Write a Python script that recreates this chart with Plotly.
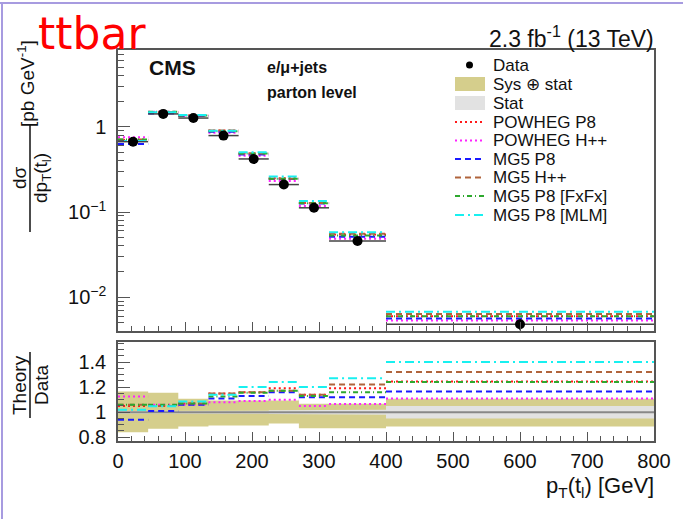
import numpy as np
import plotly.graph_objects as go

# ---------------- data ----------------
bin_edges = [0, 45, 90, 135, 180, 225, 270, 315, 400, 800]
data_xsec = [0.67, 1.42, 1.27, 0.79, 0.42, 0.21, 0.112, 0.0456, 0.0048]   # pb/GeV
data_stat_rel = [0.01, 0.008, 0.008, 0.01, 0.012, 0.015, 0.02, 0.02, 0.05]
sys_up = [1.165, 1.155, 1.107, 1.094, 1.094, 1.094, 1.068, 1.068, 1.107]
sys_dn = [0.840, 0.867, 0.885, 0.893, 0.893, 0.910, 0.872, 0.872, 0.885]

model_names = ["POWHEG P8", "POWHEG H++", "MG5 P8", "MG5 H++", "MG5 P8 [FxFx]", "MG5 P8 [MLM]"]
ratio_powheg_p8 = [1.05, 1.05, 1.07, 1.15, 1.16, 1.19, 1.14, 1.19, 1.245]
ratio_powheg_hpp = [1.125, 1.06, 1.06, 1.08, 1.09, 1.10, 1.05, 1.065, 1.11]
ratio_mg5_p8 = [0.94, 1.01, 1.06, 1.11, 1.13, 1.16, 1.12, 1.12, 1.165]
ratio_mg5_hpp = [1.06, 1.05, 1.07, 1.15, 1.16, 1.17, 1.14, 1.22, 1.32]
ratio_mg5_fxfx = [1.06, 1.06, 1.07, 1.125, 1.155, 1.17, 1.13, 1.16, 1.24]
ratio_mg5_mlm = [1.02, 1.047, 1.086, 1.14, 1.20, 1.24, 1.20, 1.27, 1.40]

x_ticks = [0, 100, 200, 300, 400, 500, 600, 700, 800]
main_y_ticks = [0.01, 0.1, 1]
main_y_ticktext = ["10<sup>\u22122</sup>", "10<sup>\u22121</sup>", "1"]
ratio_y_ticks = [0.8, 1.0, 1.2, 1.4]
ratio_y_ticktext = ["0.8", "1", "1.2", "1.4"]

model_ratios = [ratio_powheg_p8, ratio_powheg_hpp, ratio_mg5_p8,
                ratio_mg5_hpp, ratio_mg5_fxfx, ratio_mg5_mlm]
model_colors = ["#ff1a1a", "#ff22ff", "#1a1aff", "#b0643c", "#2ea82e", "#18f0f0"]
model_dash = ["2px,3px", "2px,3px", "6px,4px", "6px,4px", "5px,3px,1px,3px", "9px,4px,2px,4px"]

W, H = 683, 519
FONT = "Liberation Sans, Arial, sans-serif"
FRAME = "#555555"


def X(px):
    return px / W


def Y(py):
    return 1 - py / H


edges = np.array(bin_edges, dtype=float)
lo, hi = edges[:-1], edges[1:]
centers = (lo + hi) / 2
halfw = (hi - lo) / 2
data = np.array(data_xsec)


def segments(vals):
    xs, ys = [], []
    for a, b, v in zip(lo, hi, vals):
        xs += [a, b, None]
        ys += [v, v, None]
    return xs, ys


def band(up, dn):
    xs, ys = [], []
    for a, b, u in zip(lo, hi, up):
        xs += [a, b]
        ys += [u, u]
    for a, b, d in zip(lo[::-1], hi[::-1], dn[::-1]):
        xs += [b, a]
        ys += [d, d]
    return xs + [xs[0]], ys + [ys[0]]


fig = go.Figure()

# ---- upper panel: predictions and measurement ----
for name, r, c, d in zip(model_names, model_ratios, model_colors, model_dash):
    xs, ys = segments(data * np.array(r))
    fig.add_trace(go.Scatter(x=xs, y=ys, mode="lines", name=name,
                             line=dict(color=c, width=2, dash=d),
                             xaxis="x", yaxis="y", showlegend=False))

fig.add_trace(go.Scatter(
    x=centers, y=data, mode="markers", name="Data",
    marker=dict(color="black", size=10),
    error_x=dict(type="data", array=halfw, color="#444444", thickness=1.5, width=0),
    error_y=dict(type="data", array=data * np.array(data_stat_rel) * 3,
                 color="#222222", thickness=1.5, width=0),
    xaxis="x", yaxis="y", showlegend=False))

# ---- lower panel: theory / data ----
bx, by = band(sys_up, sys_dn)
fig.add_trace(go.Scatter(x=bx, y=by, mode="lines", fill="toself",
                         fillcolor="#d5ce8c", line=dict(width=0),
                         xaxis="x2", yaxis="y2", showlegend=False, hoverinfo="skip"))
st_up = [1 + s for s in data_stat_rel]
st_dn = [1 - s for s in data_stat_rel]
sx, sy = band(st_up, st_dn)
fig.add_trace(go.Scatter(x=sx, y=sy, mode="lines", fill="toself",
                         fillcolor="#e2e2e2", line=dict(width=0),
                         xaxis="x2", yaxis="y2", showlegend=False, hoverinfo="skip"))
fig.add_trace(go.Scatter(x=[0, 800], y=[1, 1], mode="lines",
                         line=dict(color="#888888", width=2),
                         xaxis="x2", yaxis="y2", showlegend=False))
for name, r, c, d in zip(model_names, model_ratios, model_colors, model_dash):
    xs, ys = segments(r)
    fig.add_trace(go.Scatter(x=xs, y=ys, mode="lines", name=name,
                             line=dict(color=c, width=2, dash=d),
                             xaxis="x2", yaxis="y2", showlegend=False))

x_dom = [X(118), X(654)]
axis_common = dict(showline=True, mirror=True, linecolor=FRAME, linewidth=1.5,
                   showgrid=False, zeroline=False, ticks="inside",
                   tickcolor=FRAME, automargin=False,
                   tickfont=dict(family=FONT, size=20, color="#111111"))

fig.update_layout(
    width=W, height=H,
    margin=dict(l=0, r=0, t=0, b=0),
    paper_bgcolor="white", plot_bgcolor="white",
    showlegend=False,
    xaxis=dict(domain=x_dom, range=[0, 800], anchor="y", showticklabels=False,
               tickvals=x_ticks, ticklen=9,
               minor=dict(dtick=20, tick0=0, ticklen=5, ticks="inside", tickcolor=FRAME),
               **axis_common),
    yaxis=dict(domain=[Y(331), Y(50)], type="log",
               range=[np.log10(0.004), np.log10(8.0)], anchor="x",
               tickvals=main_y_ticks, ticktext=main_y_ticktext, ticklen=12,
               ticklabelstandoff=6,
               minor=dict(tickvals=[m * 10.0 ** e for e in (-3, -2, -1, 0)
                                    for m in range(2, 10)],
                          ticklen=6, ticks="inside", tickcolor=FRAME),
               **axis_common),
    xaxis2=dict(domain=x_dom, range=[0, 800], anchor="y2",
                tickvals=x_ticks, ticktext=[str(v) for v in x_ticks], ticklen=9,
                ticklabelstandoff=1,
                minor=dict(dtick=20, tick0=0, ticklen=5, ticks="inside", tickcolor=FRAME),
                **axis_common),
    yaxis2=dict(domain=[Y(441), Y(342)], range=[0.77, 1.56], anchor="x2",
                tickvals=ratio_y_ticks, ticktext=ratio_y_ticktext, ticklen=12,
                ticklabelstandoff=6,
                minor=dict(dtick=0.05, tick0=0, ticklen=6, ticks="inside", tickcolor=FRAME),
                **axis_common),
)

ann = []
shapes = []


def text(px, py, s, size=15, bold=False, xanchor="left", color="#111111",
         family=FONT, angle=0):
    if bold:
        s = "<b>" + s + "</b>"
    ann.append(dict(x=X(px), y=Y(py), xref="paper", yref="paper", text=s,
                    showarrow=False, xanchor=xanchor, yanchor="middle",
                    textangle=angle,
                    font=dict(family=family, size=size, color=color)))


# titles and labels
text(36, 33, "ttbar", size=44, color="#ff0000", family="DejaVu Sans, sans-serif")
text(656, 37, "2.3 fb<sup>-1</sup> (13 TeV)", size=23, xanchor="right")
text(147, 68, "CMS", size=21, bold=True)
text(265, 67, "e/\u03bc+jets", size=16, bold=True)
text(265, 93, "parton level", size=16, bold=True)
text(656, 487, "p<sub>T</sub>(t<sub>l</sub>) [GeV]", size=22, xanchor="right")

# y-axis titles (rotated fractions)
text(26, 84, "[pb GeV<sup>-1</sup>]", size=19, xanchor="center", angle=-90)
text(19, 178, "d\u03c3", size=19, xanchor="center", angle=-90)
text(42, 178, "dp<sub>T</sub>(t<sub>l</sub>)", size=19, xanchor="center", angle=-90)
shapes.append(dict(type="line", xref="paper", yref="paper",
                   x0=X(30), x1=X(30), y0=Y(124), y1=Y(232),
                   line=dict(color="#111111", width=1.5)))
text(19, 385, "Theory", size=19, xanchor="center", angle=-90)
text(41, 385, "Data", size=19, xanchor="center", angle=-90)
shapes.append(dict(type="line", xref="paper", yref="paper",
                   x0=X(30), x1=X(30), y0=Y(352), y1=Y(418),
                   line=dict(color="#111111", width=1.5)))

# legend
leg_x0, leg_x1, leg_tx = 455, 485, 491
rows = [65, 84, 103, 122, 140.5, 159, 177.5, 196, 215]
shapes.append(dict(type="circle", xref="paper", yref="paper",
                   x0=X(466), x1=X(473), y0=Y(rows[0] - 3.5), y1=Y(rows[0] + 3.5),
                   fillcolor="black", line=dict(width=0)))
text(leg_tx, rows[0], "Data", size=17)
shapes.append(dict(type="rect", xref="paper", yref="paper",
                   x0=X(leg_x0), x1=X(leg_x1), y0=Y(rows[1] - 7), y1=Y(rows[1] + 7),
                   fillcolor="#d5ce8c", line=dict(width=0)))
text(leg_tx, rows[1], "Sys \u2295 stat", size=17)
shapes.append(dict(type="rect", xref="paper", yref="paper",
                   x0=X(leg_x0), x1=X(leg_x1), y0=Y(rows[2] - 7), y1=Y(rows[2] + 7),
                   fillcolor="#e2e2e2", line=dict(width=0)))
text(leg_tx, rows[2], "Stat", size=17)
for i, (name, c, d) in enumerate(zip(model_names, model_colors, model_dash)):
    r = rows[3 + i]
    shapes.append(dict(type="line", xref="paper", yref="paper",
                       x0=X(leg_x0), x1=X(leg_x1), y0=Y(r), y1=Y(r),
                       line=dict(color=c, width=2, dash=d)))
    text(leg_tx, r, name, size=17)

# slide frame lines
shapes.append(dict(type="line", xref="paper", yref="paper", x0=0, x1=1,
                   y0=Y(3), y1=Y(3), line=dict(color="#a79be0", width=2)))
shapes.append(dict(type="line", xref="paper", yref="paper", x0=X(2), x1=X(2),
                   y0=0, y1=Y(3), line=dict(color="#a79be0", width=2)))

fig.update_layout(annotations=ann, shapes=shapes)
fig.write_html("out.html")
